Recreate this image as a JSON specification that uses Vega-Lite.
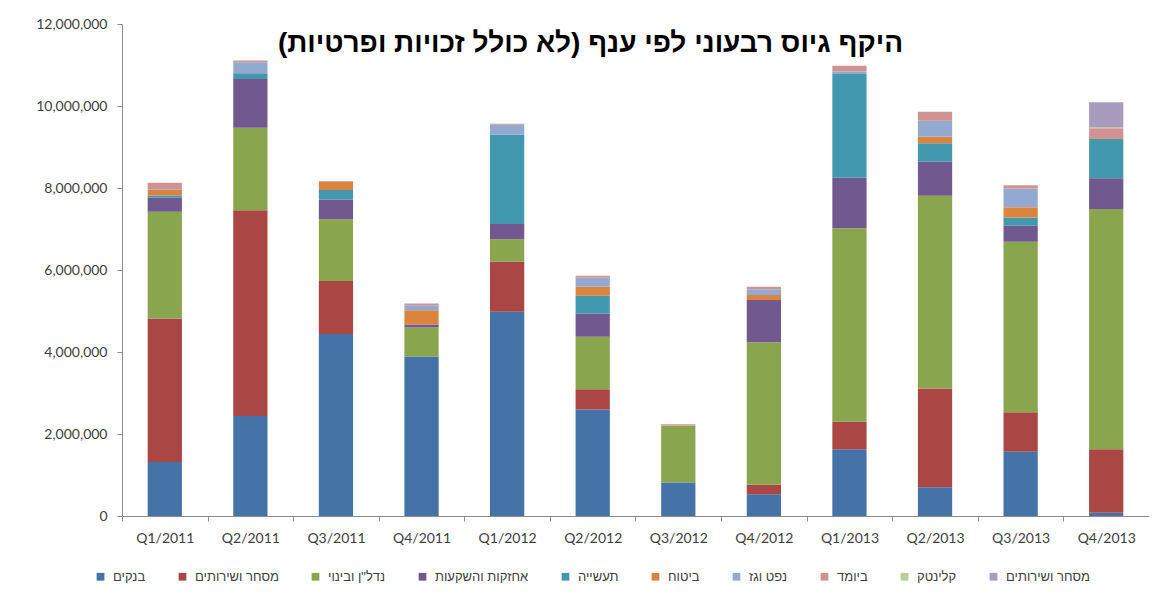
{
  "$schema": "https://vega.github.io/schema/vega-lite/v6.json",
  "width": 1027,
  "height": 492,
  "autosize": {"type": "none"},
  "padding": {"left": 122, "top": 24, "right": 18, "bottom": 88},
  "background": "white",
  "title": {
    "text": "היקף גיוס רבעוני לפי ענף (לא כולל זכויות ופרטיות)",
    "font": "Liberation Sans",
    "fontSize": 28,
    "fontWeight": "bold",
    "color": "#000000",
    "anchor": "middle",
    "dx": -45,
    "offset": -41
  },
  "config": {
    "view": {"stroke": null},
    "font": "Liberation Sans"
  },
  "data": {
    "values": [
      {"q": "Q1/2011", "sector": "בנקים", "v": 1320000},
      {"q": "Q1/2011", "sector": "מסחר ושירותים", "v": 3500000},
      {"q": "Q1/2011", "sector": "נדל\"ן ובינוי", "v": 2600000},
      {"q": "Q1/2011", "sector": "אחזקות והשקעות", "v": 340000},
      {"q": "Q1/2011", "sector": "תעשייה", "v": 60000},
      {"q": "Q1/2011", "sector": "ביטוח", "v": 130000},
      {"q": "Q1/2011", "sector": "נפט וגז", "v": 20000},
      {"q": "Q1/2011", "sector": "ביומד", "v": 160000},

      {"q": "Q2/2011", "sector": "בנקים", "v": 2440000},
      {"q": "Q2/2011", "sector": "מסחר ושירותים", "v": 5020000},
      {"q": "Q2/2011", "sector": "נדל\"ן ובינוי", "v": 2010000},
      {"q": "Q2/2011", "sector": "אחזקות והשקעות", "v": 1190000},
      {"q": "Q2/2011", "sector": "תעשייה", "v": 140000},
      {"q": "Q2/2011", "sector": "נפט וגז", "v": 270000},
      {"q": "Q2/2011", "sector": "ביומד", "v": 40000},

      {"q": "Q3/2011", "sector": "בנקים", "v": 4440000},
      {"q": "Q3/2011", "sector": "מסחר ושירותים", "v": 1290000},
      {"q": "Q3/2011", "sector": "נדל\"ן ובינוי", "v": 1510000},
      {"q": "Q3/2011", "sector": "אחזקות והשקעות", "v": 480000},
      {"q": "Q3/2011", "sector": "תעשייה", "v": 230000},
      {"q": "Q3/2011", "sector": "ביטוח", "v": 200000},
      {"q": "Q3/2011", "sector": "ביומד", "v": 20000},

      {"q": "Q4/2011", "sector": "בנקים", "v": 3890000},
      {"q": "Q4/2011", "sector": "נדל\"ן ובינוי", "v": 710000},
      {"q": "Q4/2011", "sector": "אחזקות והשקעות", "v": 70000},
      {"q": "Q4/2011", "sector": "ביטוח", "v": 350000},
      {"q": "Q4/2011", "sector": "נפט וגז", "v": 120000},
      {"q": "Q4/2011", "sector": "ביומד", "v": 40000},

      {"q": "Q1/2012", "sector": "בנקים", "v": 4980000},
      {"q": "Q1/2012", "sector": "מסחר ושירותים", "v": 1220000},
      {"q": "Q1/2012", "sector": "נדל\"ן ובינוי", "v": 550000},
      {"q": "Q1/2012", "sector": "אחזקות והשקעות", "v": 370000},
      {"q": "Q1/2012", "sector": "תעשייה", "v": 2180000},
      {"q": "Q1/2012", "sector": "נפט וגז", "v": 240000},
      {"q": "Q1/2012", "sector": "ביומד", "v": 30000},

      {"q": "Q2/2012", "sector": "בנקים", "v": 2600000},
      {"q": "Q2/2012", "sector": "מסחר ושירותים", "v": 490000},
      {"q": "Q2/2012", "sector": "נדל\"ן ובינוי", "v": 1280000},
      {"q": "Q2/2012", "sector": "אחזקות והשקעות", "v": 570000},
      {"q": "Q2/2012", "sector": "תעשייה", "v": 430000},
      {"q": "Q2/2012", "sector": "ביטוח", "v": 220000},
      {"q": "Q2/2012", "sector": "נפט וגז", "v": 230000},
      {"q": "Q2/2012", "sector": "ביומד", "v": 40000},

      {"q": "Q3/2012", "sector": "בנקים", "v": 820000},
      {"q": "Q3/2012", "sector": "נדל\"ן ובינוי", "v": 1380000},
      {"q": "Q3/2012", "sector": "ביטוח", "v": 10000},
      {"q": "Q3/2012", "sector": "ביומד", "v": 30000},

      {"q": "Q4/2012", "sector": "בנקים", "v": 530000},
      {"q": "Q4/2012", "sector": "מסחר ושירותים", "v": 230000},
      {"q": "Q4/2012", "sector": "נדל\"ן ובינוי", "v": 3480000},
      {"q": "Q4/2012", "sector": "אחזקות והשקעות", "v": 1030000},
      {"q": "Q4/2012", "sector": "ביטוח", "v": 120000},
      {"q": "Q4/2012", "sector": "נפט וגז", "v": 140000},
      {"q": "Q4/2012", "sector": "ביומד", "v": 60000},

      {"q": "Q1/2013", "sector": "בנקים", "v": 1630000},
      {"q": "Q1/2013", "sector": "מסחר ושירותים", "v": 670000},
      {"q": "Q1/2013", "sector": "נדל\"ן ובינוי", "v": 4720000},
      {"q": "Q1/2013", "sector": "אחזקות והשקעות", "v": 1230000},
      {"q": "Q1/2013", "sector": "תעשייה", "v": 2530000},
      {"q": "Q1/2013", "sector": "נפט וגז", "v": 60000},
      {"q": "Q1/2013", "sector": "ביומד", "v": 140000},

      {"q": "Q2/2013", "sector": "בנקים", "v": 700000},
      {"q": "Q2/2013", "sector": "מסחר ושירותים", "v": 2410000},
      {"q": "Q2/2013", "sector": "נדל\"ן ובינוי", "v": 4700000},
      {"q": "Q2/2013", "sector": "אחזקות והשקעות", "v": 830000},
      {"q": "Q2/2013", "sector": "תעשייה", "v": 450000},
      {"q": "Q2/2013", "sector": "ביטוח", "v": 160000},
      {"q": "Q2/2013", "sector": "נפט וגז", "v": 390000},
      {"q": "Q2/2013", "sector": "ביומד", "v": 220000},

      {"q": "Q3/2013", "sector": "בנקים", "v": 1570000},
      {"q": "Q3/2013", "sector": "מסחר ושירותים", "v": 960000},
      {"q": "Q3/2013", "sector": "נדל\"ן ובינוי", "v": 4160000},
      {"q": "Q3/2013", "sector": "אחזקות והשקעות", "v": 390000},
      {"q": "Q3/2013", "sector": "תעשייה", "v": 200000},
      {"q": "Q3/2013", "sector": "ביטוח", "v": 250000},
      {"q": "Q3/2013", "sector": "נפט וגז", "v": 460000},
      {"q": "Q3/2013", "sector": "ביומד", "v": 80000},

      {"q": "Q4/2013", "sector": "בנקים", "v": 80000},
      {"q": "Q4/2013", "sector": "מסחר ושירותים", "v": 1550000},
      {"q": "Q4/2013", "sector": "נדל\"ן ובינוי", "v": 5860000},
      {"q": "Q4/2013", "sector": "אחזקות והשקעות", "v": 750000},
      {"q": "Q4/2013", "sector": "תעשייה", "v": 960000},
      {"q": "Q4/2013", "sector": "ביטוח", "v": 20000},
      {"q": "Q4/2013", "sector": "ביומד", "v": 240000},
      {"q": "Q4/2013", "sector": "קלינטק", "v": 20000},
      {"q": "Q4/2013", "sector": "מסחר ושירותים 2", "v": 610000}
    ]
  },
  "transform": [
    {"calculate": "indexof(['בנקים', 'מסחר ושירותים', 'נדל\"ן ובינוי', 'אחזקות והשקעות', 'תעשייה', 'ביטוח', 'נפט וגז', 'ביומד', 'קלינטק', 'מסחר ושירותים 2'], datum.sector)", "as": "stackIndex"}
  ],
  "mark": {"type": "bar"},
  "encoding": {
    "x": {
      "field": "q",
      "type": "ordinal",
      "sort": null,
      "scale": {"paddingInner": 0.6, "paddingOuter": 0.3},
      "axis": {
        "title": null,
        "labelAngle": 0,
        "tickOffset": -42.8,
        "labelOffset": 42.8,
        "domainColor": "#8c8c8c",
        "tickColor": "#8c8c8c",
        "tickSize": 5,
        "labelPadding": 10,
        "labelFont": "Lato",
        "labelFontSize": 14,
        "labelColor": "#404040"
      }
    },
    "y": {
      "field": "v",
      "type": "quantitative",
      "aggregate": "sum",
      "stack": "zero",
      "scale": {"domain": [0, 12000000], "nice": false},
      "axis": {
        "title": null,
        "grid": false,
        "values": [0, 2000000, 4000000, 6000000, 8000000, 10000000, 12000000],
        "format": ",d",
        "domainColor": "#8c8c8c",
        "tickColor": "#8c8c8c",
        "tickSize": 5,
        "labelPadding": 10,
        "labelFont": "Lato",
        "labelFontSize": 14,
        "labelColor": "#404040"
      }
    },
    "order": {"field": "stackIndex", "type": "quantitative", "aggregate": "min", "sort": "ascending"},
    "color": {
      "field": "sector",
      "type": "nominal",
      "sort": ["בנקים", "מסחר ושירותים", "נדל\"ן ובינוי", "אחזקות והשקעות", "תעשייה", "ביטוח", "נפט וגז", "ביומד", "קלינטק", "מסחר ושירותים 2"],
      "scale": {
        "domain": ["בנקים", "מסחר ושירותים", "נדל\"ן ובינוי", "אחזקות והשקעות", "תעשייה", "ביטוח", "נפט וגז", "ביומד", "קלינטק", "מסחר ושירותים 2"],
        "range": ["#4572A7", "#AA4643", "#89A54E", "#71588F", "#4198AF", "#DB843D", "#93A9CF", "#D19392", "#B9CD96", "#A99BBD"]
      },
      "legend": {
        "title": null,
        "orient": "none",
        "legendX": -28,
        "legendY": 546,
        "direction": "horizontal",
        "columns": 10,
        "columnPadding": 30,
        "symbolType": "square",
        "symbolSize": 60,
        "symbolStrokeWidth": 0,
        "labelOffset": 6,
        "labelFont": "Liberation Sans",
        "labelFontSize": 13,
        "labelColor": "#404040",
        "labelExpr": "replace(datum.label, ' 2', '')"
      }
    }
  }
}
